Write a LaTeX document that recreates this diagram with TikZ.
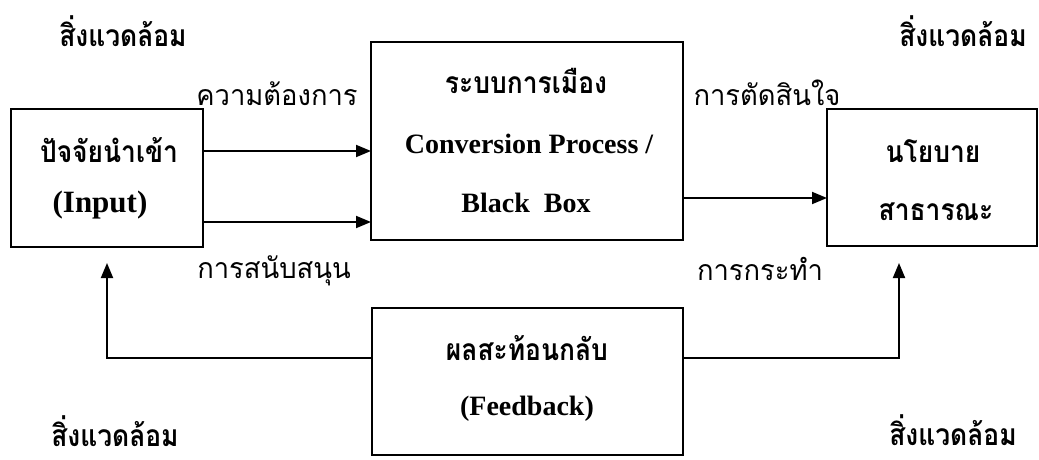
\documentclass[tikz,border=0pt]{standalone}
\usepackage{fontspec}
\setmainfont{Liberation Serif}
\newfontfamily\thai[Script=Thai,FakeStretch=0.88]{Loma}
\newfontfamily\thaireg[Script=Thai,FakeStretch=0.96]{Loma}
\usetikzlibrary{arrows.meta}
\begin{document}
\begin{tikzpicture}[x=1pt,y=-1pt,
  box/.style={draw,line width=1.5pt,inner sep=0pt,outer sep=0pt},
  conn/.style={line width=1.9pt,-{Triangle[length=15pt,width=12pt]}},
  th/.style={anchor=base,inner sep=0pt,font=\thai\bfseries\fontsize{30}{34}\selectfont},
  thr/.style={anchor=base,inner sep=0pt,font=\thaireg\fontsize{28.5}{32}\selectfont},
  lt/.style={anchor=base,inner sep=0pt,font=\bfseries\fontsize{28}{32}\selectfont}]
\useasboundingbox (0,0) rectangle (1039,460);
% boxes
\node[box,minimum width=192pt,minimum height=138pt] (in) at (107,178) {};
\node[box,minimum width=312pt,minimum height=198pt] (sys) at (527,141) {};
\node[box,minimum width=210pt,minimum height=137pt] (pol) at (932,177.5) {};
\node[box,minimum width=311pt,minimum height=147pt] (fb) at (527.5,381.5) {};
% box texts
\node[th] (t1) at (109,162) {ปัจจัยนำเข้า};
\node[lt,font=\bfseries\fontsize{31}{35}\selectfont] (t2) at (100,212) {(Input)};
\node[th] (t3) at (526,93) {ระบบการเมือง};
\node[lt] (t4) at (529,153) {Conversion Process /};
\node[lt] (t5) at (526,212) {Black\ \ Box};
\node[th] (t6) at (933,162) {นโยบาย};
\node[th] (t7) at (936,220) {สาธารณะ};
\node[th] (t8) at (527,360) {ผลสะท้อนกลับ};
\node[lt] (t9) at (527,415) {(Feedback)};
% environment
\node[th] (e1) at (123,47) {สิ่งแวดล้อม};
\node[th] (e2) at (963,47) {สิ่งแวดล้อม};
\node[th] (e3) at (115,446) {สิ่งแวดล้อม};
\node[th] (e4) at (953,445) {สิ่งแวดล้อม};
% flow labels
\node[thr] (l1) at (277,105) {ความต้องการ};
\node[thr] (l2) at (274,278) {การสนับสนุน};
\node[thr] (l3) at (767,105) {การตัดสินใจ};
\node[thr] (l4) at (760,280) {การกระทำ};
% connectors
\coordinate (inup) at (107,263);
\coordinate (polup) at (899,263);
\draw[conn] ([yshift=27pt]in.east) -- ([yshift=27pt]in.east -| sys.west);
\draw[conn] ([yshift=-44pt]in.east) -- ([yshift=-44pt]in.east -| sys.west);
\draw[conn] ([yshift=-57pt]sys.east) -- ([yshift=-57pt]sys.east -| pol.west);
\draw[conn] ([yshift=23.5pt]fb.west) -| (inup);
\draw[conn] ([yshift=23.5pt]fb.east) -| (polup);
\end{tikzpicture}
\end{document}
